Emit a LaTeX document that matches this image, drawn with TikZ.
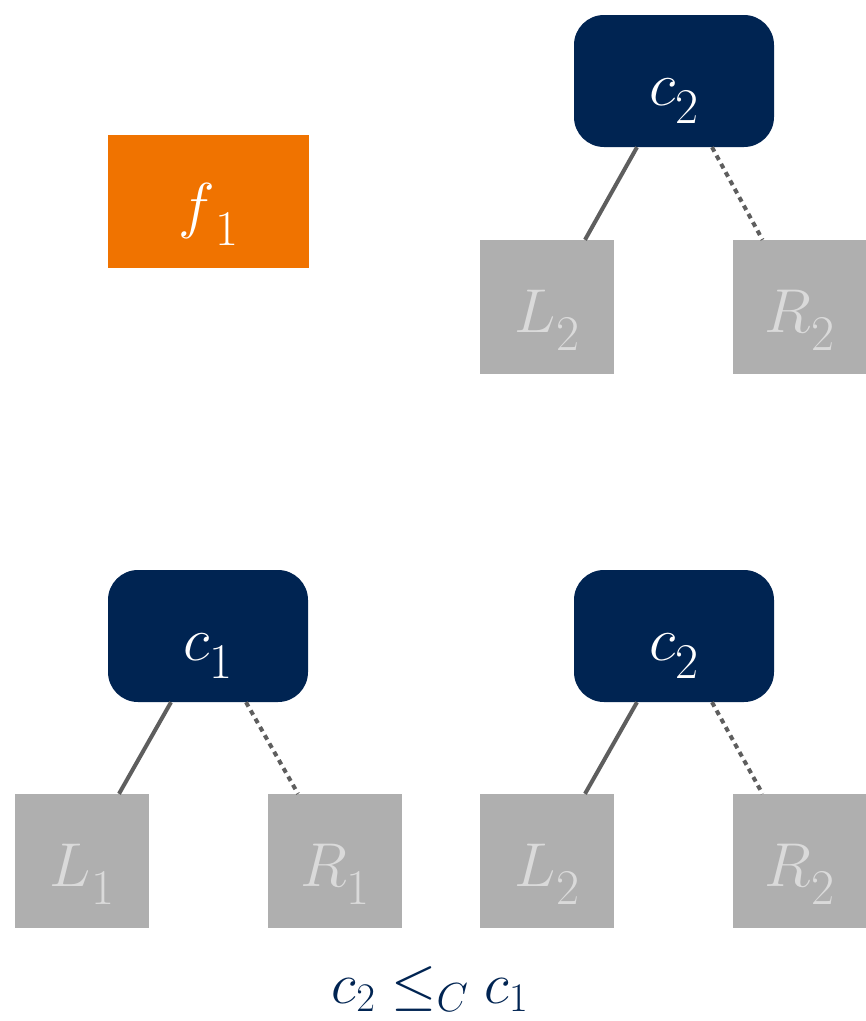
\RequirePackage{fix-cm}
\documentclass[tikz,border=0pt]{standalone}
\newcommand{\lowsub}[1]{\raisebox{-0.3em}{\fontsize{50}{50}\selectfont$#1$}}
\newcommand{\symb}[2]{$#1$\lowsub{#2}}
\tikzset{
  split/.style={fill={rgb,255:red,0;green,36;blue,82},text=white,rounded corners=30pt,minimum width=200pt,minimum height=132pt,inner sep=0pt,text height=62pt,text depth=14pt},
  leaf/.style={fill={rgb,255:red,175;green,175;blue,175},text={rgb,255:red,218;green,218;blue,218},minimum width=134pt,minimum height=134pt,inner sep=0pt,text height=62pt,text depth=12pt},
  edge/.style={draw={rgb,255:red,94;green,94;blue,94},line width=4pt},
  dotedge/.style={edge,dash pattern=on 5pt off 4.5pt}
}
\begin{document}
\begin{tikzpicture}[x=1pt,y=-1pt,font=\fontsize{62}{70}\selectfont]
\path[use as bounding box] (0,0) rectangle (866,1021);
\path[fill=white,draw=none] (0,0) rectangle (866,1021);
% feature
\node[fill={rgb,255:red,240;green,115;blue,0},text=white,minimum width=201pt,minimum height=133pt,inner sep=0pt,text height=62pt,text depth=12pt] (f1) at (208.5,201.5) {\symb{f}{1}};
% upper tree
\node[split] (c2top) at (674,81) {\symb{c}{2}};
\node[leaf] (L2top) at (547,307) {\symb{L}{2}};
\node[leaf] (R2top) at (799.5,307) {\symb{R}{2}};
\draw[edge] ([xshift=-37pt]c2top.south) -- ([xshift=38pt]L2top.north);
\draw[dotedge] ([xshift=38pt]c2top.south) -- ([xshift=-37pt]R2top.north);
% lower trees
\node[split] (c1) at (208,636) {\symb{c}{1}};
\node[leaf] (L1) at (82,861) {\symb{L}{1}};
\node[leaf] (R1) at (335,861) {\symb{R}{1}};
\draw[edge] ([xshift=-37pt]c1.south) -- ([xshift=37pt]L1.north);
\draw[dotedge] ([xshift=38pt]c1.south) -- ([xshift=-37pt]R1.north);
\node[split] (c2bot) at (674,636) {\symb{c}{2}};
\node[leaf] (L2bot) at (547,861) {\symb{L}{2}};
\node[leaf] (R2bot) at (799.5,861) {\symb{R}{2}};
\draw[edge] ([xshift=-37pt]c2bot.south) -- ([xshift=38pt]L2bot.north);
\draw[dotedge] ([xshift=38pt]c2bot.south) -- ([xshift=-37pt]R2bot.north);
% order
\node[text={rgb,255:red,0;green,36;blue,82},inner sep=0pt,anchor=base,font=\fontsize{58}{64}\selectfont] (order) at (430,1003) {$c_2 \leq_C c_1$};
\end{tikzpicture}
\end{document}
